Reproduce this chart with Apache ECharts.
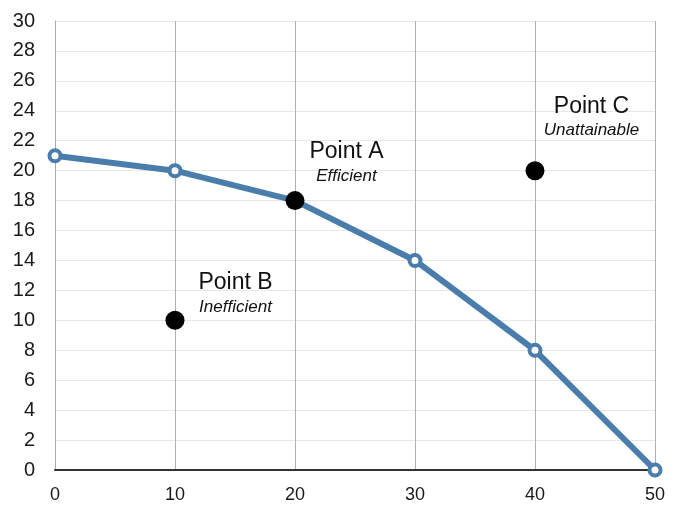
<!DOCTYPE html>
<html>
<head>
<meta charset="utf-8">
<script src="https://cdn.jsdelivr.net/npm/echarts@6/dist/echarts.min.js"></script>
<style>
  html, body { margin: 0; padding: 0; background: #fff; }
  #chart { width: 674px; height: 520px; }
</style>
</head>
<body>
<div id="chart"></div>
<script>
// frontier curve
const frontierX = [0, 10, 20, 30, 40, 50];
const frontierY = [21, 20, 18, 14, 8, 0];

// labelled points
const pointNames = ['Point A', 'Point B', 'Point C'];
const pointTags = ['Efficient', 'Inefficient', 'Unattainable'];
const pointX = [20, 10, 40];
const pointY = [18, 10, 20];

// where each point's caption sits, relative to the dot (px)
const labelPos = [[61, -52], [70, -41], [66, -68]];

const chart = echarts.init(document.getElementById('chart'));

const option = {
  animation: false,
  grid: { left: 55, right: 19, top: 21, bottom: 50 },
  xAxis: {
    type: 'value',
    min: 0, max: 50, interval: 10,
    axisLine: { show: true, lineStyle: { color: '#333', width: 2 } },
    axisTick: { show: false },
    axisLabel: { color: '#1a1a1a', fontSize: 18, fontFamily: 'Liberation Sans', margin: 16 },
    splitLine: { show: true, lineStyle: { color: '#b0b0b0', width: 1 } }
  },
  yAxis: {
    type: 'value',
    min: 0, max: 30, interval: 2,
    axisLine: { show: true, lineStyle: { color: '#aaa', width: 1 } },
    axisTick: { show: false },
    axisLabel: { color: '#1a1a1a', fontSize: 20, fontFamily: 'Liberation Sans', margin: 20 },
    splitLine: { show: true, lineStyle: { color: '#e8e8e8', width: 1 } }
  },
  series: [
    {
      type: 'line',
      data: frontierX.map((x, i) => [x, frontierY[i]]),
      symbol: 'circle',
      symbolSize: 11,
      lineStyle: { color: '#4a7dab', width: 6 },
      itemStyle: { color: '#fff', borderColor: '#4a7dab', borderWidth: 4 },
      z: 2
    },
    {
      type: 'scatter',
      data: pointX.map((x, i) => ({
        value: [x, pointY[i]],
        name: pointNames[i],
        tag: pointTags[i],
        label: { position: labelPos[i] }
      })),
      symbolSize: 19,
      itemStyle: { color: '#000', opacity: 1 },
      z: 3,
      label: {
        show: true,
        align: 'center',
        formatter: p => '{n|' + p.name + '}\n{t|' + p.data.tag + '}',
        rich: {
          n: { fontSize: 23, color: '#111', fontFamily: 'Liberation Sans', lineHeight: 26 },
          t: { fontSize: 17, color: '#111', fontStyle: 'italic', fontFamily: 'Liberation Sans', lineHeight: 22 }
        }
      }
    }
  ]
};

chart.setOption(option);
</script>
</body>
</html>
